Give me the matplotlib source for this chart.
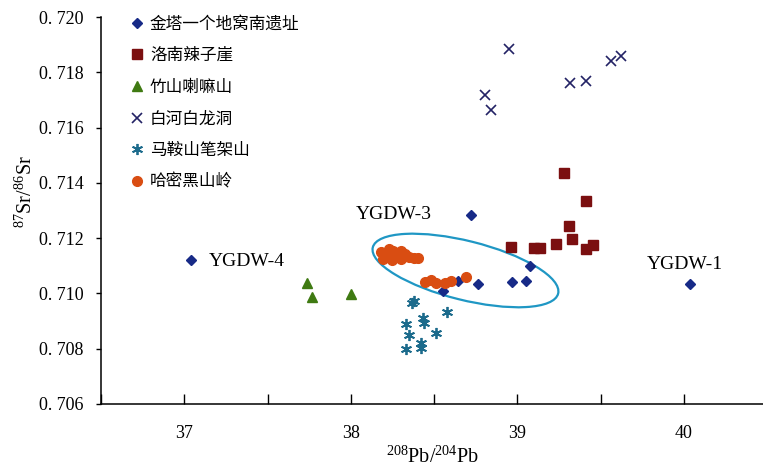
import matplotlib
matplotlib.use("Agg")
import matplotlib.pyplot as plt
from matplotlib.patches import Ellipse
from matplotlib.transforms import ScaledTranslation
from matplotlib.ticker import FuncFormatter, MultipleLocator

plt.rcParams["mathtext.fontset"] = "custom"
plt.rcParams["mathtext.rm"] = "Liberation Serif"
plt.rcParams["mathtext.it"] = "Liberation Serif:italic"

# ---- data: 208Pb/204Pb (x) vs 87Sr/86Sr (y) ----
site_names = ["金塔一个地窝南遗址", "洛南辣子崖", "竹山喇嘛山", "白河白龙洞", "马鞍山笔架山", "哈密黑山岭"]

jinta_x = [37.04, 38.72, 40.04, 38.555, 38.642, 38.762, 38.971, 39.055, 39.074]
jinta_y = [0.71121, 0.71284, 0.71034, 0.71009, 0.71046, 0.71034, 0.71040, 0.71046, 0.71100]

luonan_x = [39.283, 39.415, 39.308, 38.963, 39.103, 39.139, 39.233, 39.329, 39.410, 39.457]
luonan_y = [0.71437, 0.71335, 0.71245, 0.71167, 0.71164, 0.71164, 0.71180, 0.71196, 0.71161, 0.71175]

zhushan_x = [37.735, 37.769, 37.999]
zhushan_y = [0.71037, 0.70988, 0.70997]

baihe_x = [38.948, 38.804, 38.845, 39.317, 39.415, 39.563, 39.623]
baihe_y = [0.71883, 0.71718, 0.71663, 0.71763, 0.71769, 0.71842, 0.71860]

maanshan_x = [38.369, 38.377, 38.579, 38.435, 38.439, 38.329, 38.513, 38.349, 38.423, 38.423, 38.329]
maanshan_y = [0.70964, 0.70971, 0.70934, 0.70910, 0.70892, 0.70889, 0.70858, 0.70850, 0.70820, 0.70801, 0.70798]

hami_x = [38.179, 38.209, 38.227, 38.251, 38.275, 38.299, 38.323, 38.347, 38.377, 38.401,
          38.191, 38.245, 38.299, 38.443, 38.479, 38.515, 38.569, 38.605, 38.695]
hami_y = [0.71150, 0.71139, 0.71161, 0.71153, 0.71142, 0.71153, 0.71142, 0.71132, 0.71128, 0.71128,
          0.71124, 0.71121, 0.71124, 0.71041, 0.71048, 0.71038, 0.71038, 0.71045, 0.71059]

sample_labels = ["YGDW-4", "YGDW-3", "YGDW-1"]
sample_label_x = [37.147, 38.029, 39.779]
sample_label_y = [0.71114, 0.71284, 0.71103]

ellipse_center = (38.689, 0.71083)

x_ticks = [37, 38, 39, 40]
y_ticks = [0.706, 0.708, 0.710, 0.712, 0.714, 0.716, 0.718, 0.720]

# ---- figure ----
W, H = 763, 470
fig = plt.figure(figsize=(W / 100, H / 100), dpi=100)
ax = fig.add_axes([101 / W, (H - 404) / H, 666 / W, 387 / H])

series = [
    (jinta_x, jinta_y, dict(marker="D", ms=4.6, color="#172a87", mec="#172a87")),
    (luonan_x, luonan_y, dict(marker="s", ms=7.0, color="#7b0f10", mec="#7b0f10")),
    (zhushan_x, zhushan_y, dict(marker="^", ms=7.0, color="#3f7a12", mec="#3f7a12")),
    (baihe_x, baihe_y, dict(marker="x", ms=7.2, mew=1.2, color="#232265")),
    (maanshan_x, maanshan_y, dict(marker=(6, 2, 0), ms=8.0, mew=1.3, color="#1c6b8c")),
    (hami_x, hami_y, dict(marker="o", ms=7.0, color="#d94d12", mec="#d94d12")),
]
for (xs, ys, style), name in zip(series, site_names):
    ax.plot(xs, ys, linestyle="none", label=name, **style)

# grouping ellipse (size in inches, centred on a data point)
ell_tr = fig.dpi_scale_trans + ScaledTranslation(ellipse_center[0], ellipse_center[1], ax.transData)
ax.add_patch(Ellipse((0, 0), width=1.91, height=0.59, angle=-14, transform=ell_tr,
                     fill=False, ec="#1f97c4", lw=1.6, zorder=1))

for txt, tx, ty in zip(sample_labels, sample_label_x, sample_label_y):
    ax.text(tx, ty, txt, fontsize=14, family="Liberation Serif", ha="left", va="center")

ax.set_xlim(36.5, 40.5)
ax.set_ylim(0.706, 0.720)
ax.set_xticks(x_ticks)
ax.xaxis.set_minor_locator(MultipleLocator(0.5))
ax.set_yticks(y_ticks)
ax.yaxis.set_major_formatter(FuncFormatter(lambda v, p: f"{v:.3f}".replace(".", ". ")))

for s in ["top", "right"]:
    ax.spines[s].set_visible(False)
for s in ["left", "bottom"]:
    ax.spines[s].set_linewidth(1.1)

ax.tick_params(axis="x", which="both", direction="in", length=7, width=1.0, pad=15,
               labelsize=13, labelfontfamily="Liberation Serif")
ax.tick_params(axis="y", direction="out", length=3.6, width=1.0, pad=9,
               labelsize=13, labelfontfamily="Liberation Serif")

ax.set_xlabel(r"$^{208}$Pb/$^{204}$Pb", fontsize=14.5, family="Liberation Serif", va="center")
ax.xaxis.set_label_coords(0.4985, -0.138)
ax.set_ylabel(r"$^{87}$Sr/$^{86}$Sr", fontsize=14.5, family="Liberation Serif", va="center")
ax.yaxis.set_label_coords(-0.113, 0.548)

fs = 12
leg = ax.legend(loc="upper left", bbox_to_anchor=(128.6 / W, (H - 15.5) / H),
                bbox_transform=fig.transFigure, frameon=False, numpoints=1,
                handlelength=1.0, handletextpad=0.28, borderpad=0, borderaxespad=0,
                labelspacing=0.88, prop={"family": ["Noto Sans CJK SC", "DejaVu Sans"], "size": fs})

fig.savefig("out.png", dpi=100)
